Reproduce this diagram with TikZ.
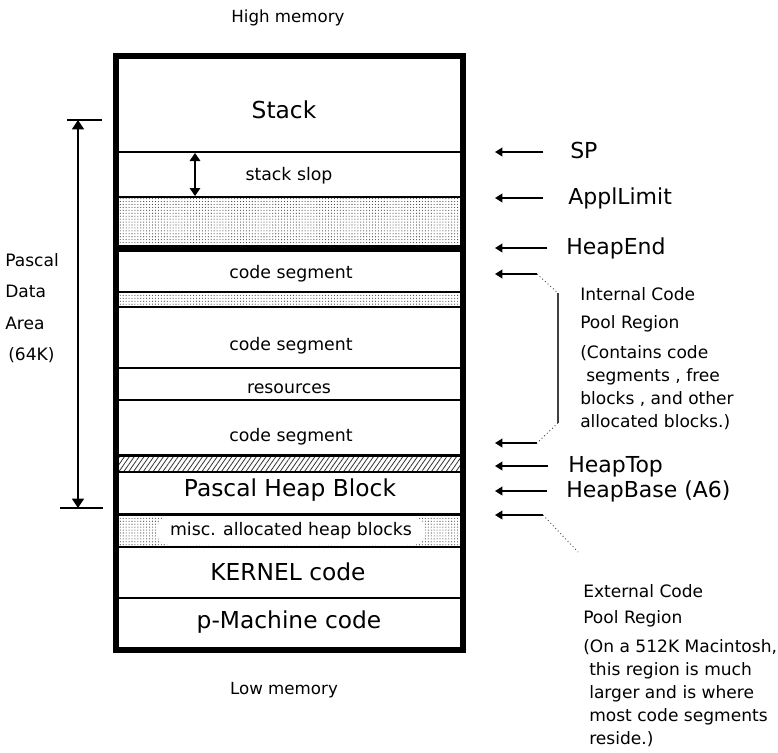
\documentclass[tikz,border=0pt]{standalone}
\usepackage{fontspec}
\setmainfont{DejaVu Sans}
\usetikzlibrary{arrows.meta,patterns.meta}

\tikzset{
  big/.style={font=\fontsize{17.5pt}{20pt}\selectfont, inner sep=0pt, text height=13pt, text depth=3.5pt},
  small/.style={font=\fontsize{13pt}{15pt}\selectfont, inner sep=0pt, text height=9.5pt, text depth=2.7pt},
  memlbl/.style={font=\fontsize{12.5pt}{15pt}\selectfont, inner sep=0pt, text height=9.2pt, text depth=2.6pt},
  ptrlbl/.style={font=\fontsize{16.5pt}{19pt}\selectfont, inner sep=0pt, anchor=west, text height=12.3pt, text depth=3.3pt},
  note/.style={font=\fontsize{12.8pt}{15pt}\selectfont, inner sep=0pt, anchor=west, text height=9.4pt, text depth=2.6pt},
  stipple/.style={pattern={Dots[distance=2.2pt, radius=0.42pt]}, pattern color=black!75},
  hatch/.style={pattern={Lines[angle=55, distance=3pt, line width=0.6pt]}, pattern color=black!80},
  ptr/.style={-{Triangle[width=6.5pt,length=5.5pt]}, line width=1.2pt},
  span/.style={{Triangle[width=9pt,length=7pt]}-{Triangle[width=9pt,length=7pt]}, line width=0.9pt},
  slim/.style={line width=0.9pt},
  guide/.style={dotted, line width=0.7pt, black!70},
}

\begin{document}
\begin{tikzpicture}[x=0.75pt,y=-0.75pt]
\fill[white] (0,0) rectangle (778,753);
\useasboundingbox (0,0) rectangle (778,753);

% shaded and hatched bands inside the memory column
\path[stipple] (119,197) rectangle (460,246);
\path[stipple] (119,292) rectangle (460,307);
\path[hatch]   (119,456) rectangle (460,472);
\path[stipple] (119,515) rectangle (460,547);

% row dividers
\draw[slim] (119,152) -- (460,152);
\draw[line width=2.2pt] (119,197) -- (460,197);
\draw[line width=5pt] (119,248.5) -- (460,248.5);
\draw[slim] (119,292) -- (460,292);
\draw[slim] (119,307) -- (460,307);
\draw[slim] (119,368) -- (460,368);
\draw[slim] (119,400) -- (460,400);
\draw[line width=1.6pt] (119,455.5) -- (460,455.5);
\draw[slim] (119,472) -- (460,472);
\draw[line width=2.2pt] (119,514.5) -- (460,514.5);
\draw[line width=2.2pt] (119,547) -- (460,547);
\draw[line width=1.6pt] (119,598) -- (460,598);

% outer frame of memory
\draw[line width=4.5pt] (116,56) rectangle (463,650);

% row labels
\node[big] (stack) at (284,112) {Stack};
\node[small] (slop) at (289,176) {stack slop};
\node[small] (cs1) at (291,274) {code segment};
\node[small] (cs2) at (291,346) {code segment};
\node[small] (res) at (289,389) {resources};
\node[small] (cs3) at (291,437) {code segment};
\node[big] (heap) at (290,490) {Pascal Heap Block};
\node[small, fill=white, rounded corners=9pt, minimum width=201pt, minimum height=21pt] (misc) at (291,531) {misc. allocated heap blocks};
\node[big] (kern) at (288,574) {KERNEL code};
\node[big] (pm) at (289,622) {p-Machine code};

\node[memlbl] (hi) at (288,18) {High memory};
\node[memlbl] (lo) at (284,690) {Low memory};

% stack slop extent
\coordinate (slopT) at (195,153);
\coordinate (slopB) at (195,196);
\draw[span, {Triangle[width=8pt,length=6pt]}-{Triangle[width=8pt,length=6pt]}] (slopT) -- (slopB);

% Pascal data area extent
\coordinate (pdTop) at (78,120);
\coordinate (pdBot) at (78,508);
\draw[slim] (67,120) -- (102,120);
\draw[slim] (60,508) -- (103,508);
\draw[span] (pdTop) -- (pdBot);
\node[note] (pda1) at (5,262) {Pascal};
\node[note] (pda2) at (5,293) {Data};
\node[note] (pda3) at (5,325) {Area};
\node[note] (pda4) at (8,356) {(64K)};

% pointer labels
\node[ptrlbl] (sp) at (570,152) {SP};
\node[ptrlbl] (appl) at (568,198) {ApplLimit};
\node[ptrlbl] (hend) at (566,248) {HeapEnd};
\node[ptrlbl] (htop) at (568,466) {HeapTop};
\node[ptrlbl] (hbase) at (566,491) {HeapBase (A6)};

\coordinate (spTip) at (495,152);
\coordinate (applTip) at (495,198);
\coordinate (hendTip) at (495,248);
\coordinate (htopTip) at (495,466);
\coordinate (hbaseTip) at (495,491);

\draw[ptr, shorten <=20pt] (sp.west) -- (spTip);
\draw[ptr, shorten <=19pt] (appl.west) -- (applTip);
\draw[ptr, shorten <=14pt] (hend.west) -- (hendTip);
\draw[ptr, shorten <=15pt] (htop.west) -- (htopTip);
\draw[ptr, shorten <=14pt] (hbase.west) -- (hbaseTip);

% internal code pool bracket
\coordinate (icTop) at (495,274);
\coordinate (icTopK) at (537,274);
\coordinate (icMidT) at (558,293);
\coordinate (icMidB) at (558,423);
\coordinate (icBotK) at (537,443);
\coordinate (icBot) at (495,443);
\draw[ptr] (icTopK) -- (icTop);
\draw[ptr] (icBotK) -- (icBot);
\draw[guide] (icTopK) -- (icMidT);
\draw[line width=0.8pt, black!75] (icMidT) -- (icMidB);
\draw[guide] (icMidB) -- (icBotK);

\node[note] (ic1) at (580,296) {Internal Code};
\node[note] (ic2) at (580,324) {Pool Region};
\node[note] (ic3) at (580,354) {(Contains code};
\node[note] (ic4) at (586,377) {segments , free};
\node[note] (ic5) at (580,400) {blocks , and other};
\node[note] (ic6) at (580,423) {allocated blocks.)};

% external code pool pointer
\coordinate (ecTip) at (495,515);
\coordinate (ecKnee) at (543,515);
\coordinate (ecEnd) at (578,552);
\draw[ptr] (ecKnee) -- (ecTip);
\draw[guide] (ecKnee) -- (ecEnd);

\node[note] (ec1) at (583,593) {External Code};
\node[note] (ec2) at (583,619) {Pool Region};
\node[note] (ec3) at (583,648) {(On a 512K Macintosh,};
\node[note] (ec4) at (589,671) {this region is much};
\node[note] (ec5) at (589,694) {larger and is where};
\node[note] (ec6) at (589,717) {most code segments};
\node[note] (ec7) at (589,740) {reside.)};
\end{tikzpicture}
\end{document}
